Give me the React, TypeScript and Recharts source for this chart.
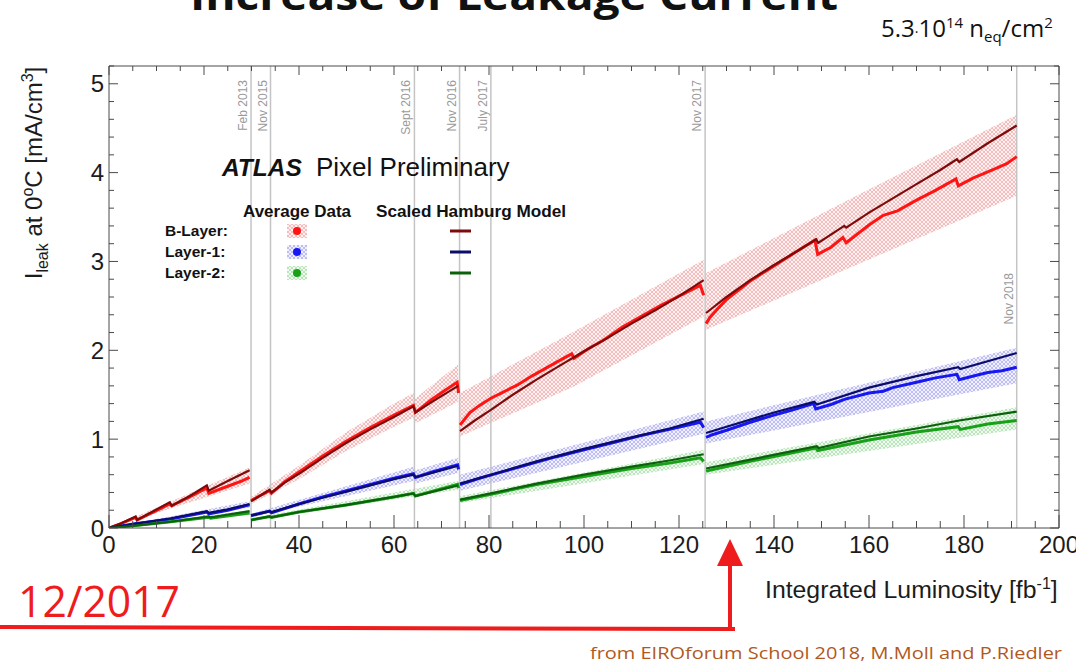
import { ComposedChart, Line, Area, XAxis, YAxis, ReferenceLine } from 'recharts';

// ---- axis ticks ----
const X_TICKS = [0, 20, 40, 60, 80, 100, 120, 140, 160, 180, 200];
const X_MINOR = [0, 5, 10, 15, 20, 25, 30, 35, 40, 45, 50, 55, 60, 65, 70, 75, 80, 85, 90, 95, 100,
  105, 110, 115, 120, 125, 130, 135, 140, 145, 150, 155, 160, 165, 170, 175, 180, 185, 190, 195, 200];
const Y_TICKS = [0, 1, 2, 3, 4, 5];
const Y_MINOR = [0, 0.2, 0.4, 0.6, 0.8, 1, 1.2, 1.4, 1.6, 1.8, 2, 2.2, 2.4, 2.6, 2.8, 3, 3.2, 3.4, 3.6,
  3.8, 4, 4.2, 4.4, 4.6, 4.8, 5, 5.2];

// ---- shutdown / annealing markers ----
const DATE_LINES = [29.9, 34.0, 64.3, 73.8, 80.4, 125.5, 191.1];
const DATE_LABELS = ['Feb 2013', 'Nov 2015', 'Sept 2016', 'Nov 2016', 'July 2017', 'Nov 2017', 'Nov 2018'];

// ---- B-Layer: [lumi, I] segments ----
const B_MODEL = [
  [[0, 0], [2.5, 0.05], [5.6, 0.13], [5.9, 0.09], [9, 0.18], [12.8, 0.29], [13.2, 0.25], [17, 0.36], [20.6, 0.48], [21, 0.42], [25, 0.53], [29.6, 0.65]],
  [[29.9, 0.30], [33.8, 0.43], [34.2, 0.40], [37, 0.51], [40, 0.61], [45, 0.79], [50, 0.96], [55, 1.11], [60, 1.25], [64.1, 1.37], [64.5, 1.30], [68, 1.42], [73.5, 1.60]],
  [[73.9, 1.09], [77, 1.21], [80.4, 1.33], [85, 1.50], [90, 1.67], [95, 1.83], [100, 1.99], [105, 2.14], [110, 2.30], [115, 2.45], [120, 2.61], [125.2, 2.79]],
  [[125.7, 2.42], [130, 2.60], [135, 2.79], [140, 2.96], [145, 3.12], [148.9, 3.25], [149.3, 3.21], [154.8, 3.40], [155.2, 3.38], [160, 3.55], [165, 3.71], [170, 3.87], [175, 4.03], [178.5, 4.15], [179, 4.12], [185, 4.33], [191.1, 4.53]],
];
const B_DATA = [
  [[0, 0], [2.5, 0.05], [5.6, 0.12], [5.9, 0.09], [9, 0.17], [12.8, 0.27], [13.2, 0.25], [17, 0.35], [20.6, 0.45], [21, 0.39], [25, 0.47], [28, 0.53], [29.6, 0.57]],
  [[29.9, 0.31], [33.8, 0.42], [34.2, 0.39], [37, 0.52], [40, 0.63], [45, 0.81], [50, 0.98], [55, 1.13], [60, 1.27], [64.1, 1.38], [64.5, 1.30], [68, 1.45], [71, 1.56], [73.3, 1.64], [73.6, 1.52]],
  [[73.9, 1.16], [76, 1.30], [78, 1.38], [80.4, 1.46], [83, 1.53], [86, 1.61], [89, 1.71], [92, 1.80], [95, 1.89], [97.4, 1.96], [97.9, 1.91], [101, 2.02], [104, 2.11], [108, 2.26], [112, 2.38], [116, 2.50], [120, 2.61], [124.5, 2.73], [125.2, 2.62]],
  [[125.7, 2.30], [126.5, 2.37], [128, 2.46], [130, 2.57], [135, 2.78], [140, 2.95], [145, 3.12], [148.6, 3.24], [149.2, 3.08], [152, 3.16], [154.5, 3.27], [155.2, 3.21], [160, 3.41], [163, 3.52], [166, 3.57], [170, 3.69], [174, 3.80], [178.3, 3.93], [178.8, 3.85], [182, 3.94], [186, 4.03], [189, 4.10], [191.1, 4.18]],
];
const B_BAND = [
  [[0, 0, 0], [29.6, 0.50, 0.68]],
  [[29.9, 0.27, 0.35], [40, 0.55, 0.70], [50, 0.87, 1.08], [60, 1.14, 1.40], [64.1, 1.24, 1.52], [64.5, 1.18, 1.46], [73.5, 1.42, 1.84]],
  [[73.9, 1.03, 1.52], [97.8, 1.59, 2.21], [125.2, 2.38, 3.02]],
  [[125.7, 2.23, 2.87], [159.5, 3.01, 3.80], [191.1, 3.74, 4.65]],
];

// ---- Layer-1 ----
const L1_MODEL = [
  [[0, 0], [5.8, 0.05], [13, 0.11], [20.6, 0.19], [21, 0.17], [25, 0.21], [29.6, 0.27]],
  [[29.9, 0.14], [33.8, 0.19], [34.2, 0.18], [40, 0.27], [45, 0.34], [50, 0.41], [55, 0.48], [60, 0.55], [64.1, 0.60], [64.5, 0.57], [68, 0.62], [73.5, 0.70]],
  [[73.9, 0.50], [80.4, 0.60], [90, 0.75], [100, 0.89], [110, 1.02], [118, 1.12], [125.2, 1.23]],
  [[125.7, 1.07], [130, 1.14], [140, 1.30], [148.5, 1.42], [149, 1.39], [160, 1.58], [170, 1.71], [178.8, 1.81], [179.2, 1.79], [191.1, 1.97]],
];
const L1_DATA = [
  [[0, 0], [5.8, 0.05], [13, 0.10], [20.6, 0.18], [21, 0.16], [25, 0.20], [29.6, 0.26]],
  [[29.9, 0.14], [33.8, 0.19], [34.2, 0.17], [40, 0.27], [45, 0.35], [50, 0.42], [55, 0.49], [60, 0.56], [64.1, 0.61], [64.5, 0.57], [68, 0.63], [73.4, 0.71], [73.6, 0.66]],
  [[73.9, 0.49], [78, 0.56], [82, 0.62], [88, 0.71], [94, 0.80], [100, 0.88], [106, 0.96], [112, 1.04], [118, 1.11], [124.5, 1.19], [125.2, 1.13]],
  [[125.7, 1.02], [127, 1.05], [130, 1.10], [135, 1.19], [140, 1.27], [144, 1.33], [148.3, 1.40], [148.8, 1.34], [152, 1.39], [155, 1.45], [160, 1.52], [163, 1.54], [165, 1.58], [170, 1.64], [174, 1.69], [178.5, 1.73], [179, 1.67], [182, 1.71], [185, 1.75], [188, 1.77], [191.1, 1.81]],
];
const L1_BAND = [
  [[0, 0, 0], [29.6, 0.23, 0.30]],
  [[29.9, 0.12, 0.16], [64.1, 0.53, 0.69], [64.5, 0.50, 0.65], [73.5, 0.62, 0.79]],
  [[73.9, 0.42, 0.60], [125.2, 1.06, 1.31]],
  [[125.7, 0.95, 1.20], [191.1, 1.63, 2.03]],
];

// ---- Layer-2 ----
const L2_MODEL = [
  [[0, 0], [6, 0.03], [13, 0.07], [21, 0.13], [21.4, 0.12], [29.6, 0.19]],
  [[29.9, 0.09], [33.8, 0.13], [34.2, 0.12], [40, 0.18], [50, 0.26], [60, 0.35], [64.1, 0.39], [64.5, 0.36], [73.5, 0.48]],
  [[73.9, 0.32], [80.4, 0.39], [90, 0.50], [100, 0.60], [110, 0.69], [118, 0.76], [125.2, 0.83]],
  [[125.7, 0.67], [135, 0.77], [149, 0.92], [149.4, 0.90], [160, 1.03], [170, 1.12], [179, 1.21], [191.1, 1.31]],
];
const L2_DATA = [
  [[0, 0], [6, 0.03], [13, 0.07], [21, 0.12], [21.4, 0.11], [29.6, 0.17]],
  [[29.9, 0.09], [33.8, 0.13], [34.2, 0.12], [40, 0.18], [50, 0.26], [60, 0.35], [64.1, 0.39], [64.5, 0.36], [73.4, 0.49], [73.6, 0.45]],
  [[73.9, 0.31], [80.4, 0.38], [90, 0.49], [100, 0.58], [110, 0.67], [118, 0.73], [124.5, 0.79], [125.2, 0.75]],
  [[125.7, 0.64], [135, 0.75], [148.8, 0.90], [149.2, 0.87], [160, 0.99], [170, 1.08], [178.8, 1.14], [179.2, 1.11], [185, 1.17], [191.1, 1.21]],
];
const L2_BAND = [
  [[0, 0, 0], [29.6, 0.15, 0.20]],
  [[29.9, 0.08, 0.11], [73.5, 0.43, 0.53]],
  [[73.9, 0.28, 0.36], [125.2, 0.72, 0.88]],
  [[125.7, 0.60, 0.74], [191.1, 1.11, 1.36]],
];

const FONT = "'Liberation Sans', Arial, Helvetica, sans-serif";
const SLIDE_FONT = "'Open Sans', 'Noto Sans', sans-serif";
const FRAME = '#4a4a4a';
const TICK_FONT = 24;

const LAYERS = [
  { name: 'B-Layer:', model: B_MODEL, data: B_DATA, band: B_BAND, modelColor: '#7c0c0c', dataColor: '#ff1414', hatch: 'hatchRed' },
  { name: 'Layer-1:', model: L1_MODEL, data: L1_DATA, band: L1_BAND, modelColor: '#0c0c6a', dataColor: '#1717f2', hatch: 'hatchBlue' },
  { name: 'Layer-2:', model: L2_MODEL, data: L2_DATA, band: L2_BAND, modelColor: '#0b600b', dataColor: '#18a018', hatch: 'hatchGreen' },
];

const pts = (seg: number[][]) => seg.map(([x, y]) => ({ x, y }));
const bandPts = (seg: number[][]) => seg.map(([x, lo, hi]) => ({ x, band: [lo, hi] }));

function Hatch({ id, bg, line }: { id: string; bg: string; line: string }) {
  return (
    <pattern id={id} width="4" height="4" patternUnits="userSpaceOnUse">
      <rect width="4" height="4" fill={bg} />
      <path d="M0,4 L4,0 M-1,1 L1,-1 M3,5 L5,3 M0,0 L4,4 M-1,3 L1,5 M3,-1 L5,1" stroke={line} strokeWidth="0.6" />
    </pattern>
  );
}

// ticks point into the frame, labels only on the major ones
function BottomTick({ x, y, payload }: any) {
  const major = X_TICKS.includes(payload.value);
  return (
    <g>
      <line x1={x} x2={x} y1={y} y2={y - (major ? 13 : 7)} stroke={FRAME} />
      {major && (
        <text x={x} y={y + 25} textAnchor="middle" fontFamily={FONT} fontSize={TICK_FONT} fill="#1c1c1c">{payload.value}</text>
      )}
    </g>
  );
}
function TopTick({ x, y, payload }: any) {
  const major = X_TICKS.includes(payload.value);
  return <line x1={x} x2={x} y1={y} y2={y + (major ? 9 : 5)} stroke={FRAME} />;
}
function LeftTick({ x, y, payload }: any) {
  const major = Y_TICKS.includes(payload.value);
  return (
    <g>
      <line x1={x} x2={x + (major ? 9 : 5)} y1={y} y2={y} stroke={FRAME} />
      {major && (
        <text x={x - 5} y={y + 8.5} textAnchor="end" fontFamily={FONT} fontSize={TICK_FONT} fill="#1c1c1c">{payload.value}</text>
      )}
    </g>
  );
}
function RightTick({ x, y, payload }: any) {
  const major = Y_TICKS.includes(payload.value);
  return <line x1={x} x2={x - (major ? 9 : 5)} y1={y} y2={y} stroke={FRAME} />;
}

function DateLabel(props: any) {
  const { viewBox, text } = props;
  if (!viewBox) return null;
  const x = viewBox.x - 4;
  const y = text === 'Nov 2018' ? 273 : 80;
  return (
    <text x={x} y={y} transform={`rotate(-90, ${x}, ${y})`} textAnchor="end" fontFamily={FONT} fontSize={12} fill="#9a9a9a">
      {text}
    </text>
  );
}

export default function App() {
  return (
    <div style={{ position: 'absolute', left: 0, top: 0, width: 1076, height: 663, background: '#fff', overflow: 'hidden' }}>
      <div style={{ position: 'absolute', left: 0, top: 0 }}>
        <ComposedChart width={1076} height={663} margin={{ top: 36, right: 7, bottom: 95, left: 49 }}>
          <defs>
            <Hatch id="hatchRed" bg="#fdf1f1" line="#ef9a9a" />
            <Hatch id="hatchBlue" bg="#f1f1fd" line="#9c9cf0" />
            <Hatch id="hatchGreen" bg="#f0faf0" line="#96d696" />
          </defs>

          <XAxis xAxisId={0} type="number" dataKey="x" domain={[0, 200]} allowDataOverflow ticks={X_MINOR} interval={0}
            tickLine={false} axisLine={{ stroke: FRAME }} height={40} tickSize={0} tickMargin={0}
            tick={(p: any) => <BottomTick {...p} />} />
          <XAxis xAxisId="top" orientation="top" type="number" dataKey="x" domain={[0, 200]} allowDataOverflow ticks={X_MINOR} interval={0}
            tickLine={false} axisLine={{ stroke: FRAME }} height={30} tickSize={0} tickMargin={0}
            tick={(p: any) => <TopTick {...p} />} />
          <YAxis yAxisId={0} type="number" domain={[0, 5.2]} allowDataOverflow ticks={Y_MINOR} interval={0}
            tickLine={false} axisLine={{ stroke: FRAME }} width={60} tickSize={0} tickMargin={0}
            tick={(p: any) => <LeftTick {...p} />} />
          <YAxis yAxisId="right" orientation="right" type="number" domain={[0, 5.2]} allowDataOverflow ticks={Y_MINOR} interval={0}
            tickLine={false} axisLine={{ stroke: FRAME }} width={10} tickSize={0} tickMargin={0}
            tick={(p: any) => <RightTick {...p} />} />

          {LAYERS.map((l) =>
            l.band.map((seg, i) => (
              <Area key={`${l.name}-band-${i}`} data={bandPts(seg)} dataKey="band" type="linear"
                stroke="none" fill={`url(#${l.hatch})`} fillOpacity={1} dot={false} activeDot={false} isAnimationActive={false} />
            ))
          )}

          {DATE_LINES.map((x, i) => (
            <ReferenceLine key={`d-${i}`} x={x} stroke="#c4c4c4" strokeWidth={1.5}
              label={<DateLabel text={DATE_LABELS[i]} />} />
          ))}

          {LAYERS.map((l) =>
            l.data.map((seg, i) => (
              <Line key={`${l.name}-data-${i}`} data={pts(seg)} dataKey="y" type="linear"
                stroke={l.dataColor} strokeWidth={3} dot={false} activeDot={false} isAnimationActive={false} />
            ))
          )}
          {LAYERS.map((l) =>
            l.model.map((seg, i) => (
              <Line key={`${l.name}-model-${i}`} data={pts(seg)} dataKey="y" type="linear"
                stroke={l.modelColor} strokeWidth={2.2} dot={false} activeDot={false} isAnimationActive={false} />
            ))
          )}
        </ComposedChart>
      </div>

      <svg width={1076} height={663} style={{ position: 'absolute', left: 0, top: 0, pointerEvents: 'none' }}>
        <defs>
          <Hatch id="legRed" bg="#fdf1f1" line="#ef9a9a" />
          <Hatch id="legBlue" bg="#f1f1fd" line="#9c9cf0" />
          <Hatch id="legGreen" bg="#f0faf0" line="#96d696" />
        </defs>

        {/* slide title, cut at the top edge */}
        <text x={514} y={10} textAnchor="middle" fontFamily={SLIDE_FONT} fontWeight="bold" fontSize={42}
          textLength={648} lengthAdjust="spacingAndGlyphs" fill="#111">Increase of Leakage Current</text>

        <text x={881} y={37} fontFamily={SLIDE_FONT} fontSize={24} fill="#111">
          5.3<tspan fontSize={14}>·</tspan>10<tspan dy={-9} fontSize={15}>14</tspan>
          <tspan dy={9}> n</tspan><tspan dy={5} fontSize={15}>eq</tspan>
          <tspan dy={-5}>/cm</tspan><tspan dy={-9} fontSize={15}>2</tspan>
        </text>

        {/* axis titles */}
        <text x={42} y={173} transform="rotate(-90, 42, 173)" textAnchor="middle" fontFamily={FONT} fontSize={24} fill="#1c1c1c">
          I<tspan dy={6} fontSize={16}>leak</tspan><tspan dy={-6}> at 0</tspan><tspan dy={-9} fontSize={16}>o</tspan>
          <tspan dy={9}>C [mA/cm</tspan><tspan dy={-9} fontSize={16}>3</tspan><tspan dy={9}>]</tspan>
        </text>
        <text x={765} y={598} fontFamily={FONT} fontSize={24.8} fill="#1c1c1c">
          Integrated Luminosity [fb<tspan dy={-9} fontSize={16}>-1</tspan><tspan dy={9}>]</tspan>
        </text>

        {/* ATLAS label and legend */}
        <text x={222} y={176} fontFamily={FONT} fontSize={24.5} fontWeight="bold" fontStyle="italic" fill="#111">ATLAS</text>
        <text x={316} y={176} fontFamily={FONT} fontSize={26} fill="#111">Pixel Preliminary</text>
        <text x={243} y={217} fontFamily={FONT} fontSize={17} fontWeight="bold" fill="#111">Average Data</text>
        <text x={376} y={217} fontFamily={FONT} fontSize={17.2} fontWeight="bold" fill="#111">Scaled Hamburg Model</text>
        {LAYERS.map((l, i) => {
          const y = 231 + i * 21;
          const fills = ['legRed', 'legBlue', 'legGreen'];
          return (
            <g key={l.name}>
              <text x={165} y={y + 5} fontFamily={FONT} fontSize={15.5} fontWeight="bold" fill="#111">{l.name}</text>
              <rect x={287} y={y - 7} width={20} height={14} fill={`url(#${fills[i]})`} />
              <circle cx={297} cy={y} r={4} fill={l.dataColor} />
              <line x1={450} x2={471} y1={y} y2={y} stroke={l.modelColor} strokeWidth={3} />
            </g>
          );
        })}

        {/* slide annotation */}
        <text x={18} y={617} fontFamily={SLIDE_FONT} fontSize={44} fill="#ee1c1c" textLength={162} lengthAdjust="spacingAndGlyphs">12/2017</text>
        <line x1={0} y1={627} x2={735} y2={629} stroke="#ee1c1c" strokeWidth={4} />
        <line x1={730} y1={629} x2={730} y2={562} stroke="#ee1c1c" strokeWidth={4} />
        <polygon points="717,566 743,566 730,539" fill="#ee1c1c" />
        <text x={590} y={659} fontFamily={SLIDE_FONT} fontSize={17} fill="#b0581e" textLength={472} lengthAdjust="spacingAndGlyphs">
          from EIROforum School 2018, M.Moll and P.Riedler
        </text>
      </svg>
    </div>
  );
}
